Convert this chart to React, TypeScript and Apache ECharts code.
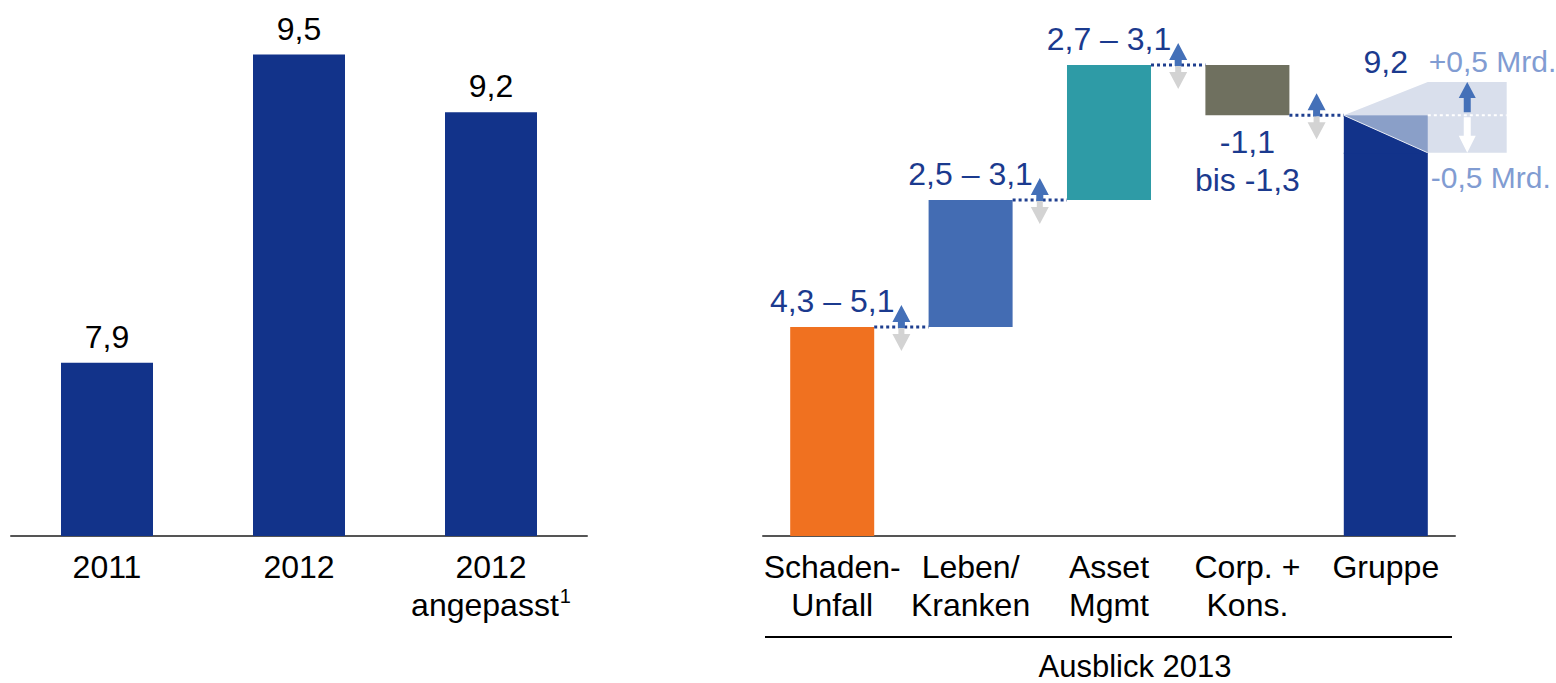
import React, { useEffect, useRef } from "react";
import * as echarts from "echarts";

// ---- Data (left chart) ----
const years = ["2011", "2012", "2012 angepasst"];
const yearLabelText = ["2011", "2012", "2012\n{a|angepasst}{s|1}"];
const profitValues = [7.9, 9.5, 9.2];
const profitLabels = ["7,9", "9,5", "9,2"];

// ---- Data (right chart: Ausblick 2013) ----
const segments = ["Schaden-\nUnfall", "Leben/\nKranken", "Asset\nMgmt", "Corp. +\nKons.", "Gruppe"];
const segmentDeltas = [4.57, 2.78, 2.95, -1.1];
const groupTotal = 9.2;
const groupHigh = 9.93;
const groupLow = 8.38;
const rangeLabels = ["4,3 – 5,1", "2,5 – 3,1", "2,7 – 3,1", "-1,1\nbis -1,3", "9,2"];
const bandLabels = ["+0,5 Mrd.", "-0,5 Mrd."];
const footerLabel = "Ausblick 2013";

const FONT = "'Liberation Sans', Arial, Helvetica, sans-serif";
const NAVY = "#12338A";
const LABEL_BLUE = "#1B3A8E";
const LIGHT_BLUE_TEXT = "#819CD2";
const segmentColors = ["#F07120", "#436CB3", "#2E9BA6", "#6F705F", NAVY];

function upArrow(x: number, base: number, tip: number, headH: number, headHalf: number, shaftHalf: number) {
  const hb = tip + headH;
  return [
    [x, tip],
    [x + headHalf, hb],
    [x + shaftHalf, hb],
    [x + shaftHalf, base],
    [x - shaftHalf, base],
    [x - shaftHalf, hb],
    [x - headHalf, hb],
  ];
}
function downArrow(x: number, base: number, tip: number, headH: number, headHalf: number, shaftHalf: number) {
  const hb = tip - headH;
  return [
    [x, tip],
    [x + headHalf, hb],
    [x + shaftHalf, hb],
    [x + shaftHalf, base],
    [x - shaftHalf, base],
    [x - shaftHalf, hb],
    [x - headHalf, hb],
  ];
}

export default function App() {
  const ref = useRef<HTMLDivElement>(null);
  useEffect(() => {
    if (!ref.current) return;
    const chart = echarts.init(ref.current, undefined, { renderer: "svg" });

    // waterfall data: [index, start, end, high, low]
    const wfData: number[][] = [];
    let cum = 0;
    segmentDeltas.forEach((d, i) => {
      wfData.push([i, cum, cum + d, cum + d, cum + d]);
      cum += d;
    });
    wfData.push([segmentDeltas.length, 0, groupTotal, groupHigh, groupLow]);

    const renderItem = (params: any, api: any) => {
      const i = api.value(0);
      const start = api.value(1);
      const end = api.value(2);
      const bw = api.size([1, 0])[0];
      const barW = bw * 0.607;
      const [cx, y0] = api.coord([i, start]);
      const y1 = api.coord([i, end])[1];
      const left = cx - barW / 2;
      const right = cx + barW / 2;
      const children: any[] = [];
      const last = i === segments.length - 1;

      if (!last) {
        const top = Math.min(y0, y1);
        const bottom = Math.max(y0, y1);
        children.push({
          type: "rect",
          shape: { x: left, y: top, width: barW, height: bottom - top },
          style: { fill: segmentColors[i] },
        });
        const nextLeft = api.coord([i + 1, 0])[0] - barW / 2;
        const midX = (right + nextLeft) / 2;
        children.push({
          type: "line",
          shape: { x1: right, y1: y1, x2: nextLeft, y2: y1 },
          style: { stroke: "#1F3F8F", lineWidth: 3, lineDash: [3, 3] },
        });
        children.push({
          type: "polygon",
          shape: { points: downArrow(midX, y1 + 1, y1 + 24, 17, 9, 3) },
          style: { fill: "#D3D3D3" },
        });
        children.push({
          type: "polygon",
          shape: { points: upArrow(midX, y1 + 1, y1 - 22, 17, 9, 3.5) },
          style: { fill: "#4470B8" },
        });
        if (end >= start) {
          children.push({
            type: "text",
            style: {
              text: rangeLabels[i], x: cx, y: top - 10, align: "center", verticalAlign: "bottom",
              fill: LABEL_BLUE, fontSize: 32, fontFamily: FONT,
            },
          });
        } else {
          children.push({
            type: "text",
            style: {
              text: rangeLabels[i], x: cx, y: bottom + 8, align: "center", verticalAlign: "top",
              fill: LABEL_BLUE, fontSize: 32, fontFamily: FONT, lineHeight: 38,
            },
          });
        }
      } else {
        const yHi = api.coord([i, api.value(3)])[1];
        const yLo = api.coord([i, api.value(4)])[1];
        const extRight = right + bw * 0.57;
        children.push({
          type: "polygon",
          shape: { points: [[left, y1], [right, yHi], [extRight, yHi], [extRight, yLo], [right, yLo], [right, y1]] },
          style: { fill: "#D9DFEC" },
        });
        children.push({
          type: "polygon",
          shape: { points: [[left, y1], [right, y1], [right, yLo]] },
          style: { fill: "#8A9FC8" },
        });
        children.push({
          type: "rect",
          shape: { x: left, y: yLo, width: barW, height: y0 - yLo },
          style: { fill: NAVY },
        });
        children.push({
          type: "polygon",
          shape: { points: [[left, y1], [right, yLo], [right, yLo + 1], [left, yLo + 1]] },
          style: { fill: NAVY },
        });
        children.push({
          type: "line",
          shape: { x1: left, y1: y1, x2: right, y2: yLo },
          style: { stroke: "#E8ECF5", lineWidth: 1 },
        });
        children.push({
          type: "line",
          shape: { x1: right, y1: y1, x2: extRight, y2: y1 },
          style: { stroke: "#FFFFFF", lineWidth: 2, lineDash: [3, 3] },
        });
        const ax = (right + extRight) / 2;
        children.push({
          type: "polygon",
          shape: { points: upArrow(ax, y1 - 3, yHi, 16, 8.5, 3.5) },
          style: { fill: "#4470B8" },
        });
        children.push({
          type: "polygon",
          shape: { points: downArrow(ax, y1 + 2, yLo, 17, 8.5, 3.5) },
          style: { fill: "#FFFFFF" },
        });
        children.push({
          type: "text",
          style: {
            text: rangeLabels[i], x: cx, y: yHi - 4, align: "center", verticalAlign: "bottom",
            fill: LABEL_BLUE, fontSize: 32, fontFamily: FONT,
          },
        });
        children.push({
          type: "text",
          style: {
            text: bandLabels[0], x: right + 1, y: yHi - 20, align: "left", verticalAlign: "middle",
            fill: LIGHT_BLUE_TEXT, fontSize: 30, fontFamily: FONT,
          },
        });
        children.push({
          type: "text",
          style: {
            text: bandLabels[1], x: right + 3, y: yLo + 25, align: "left", verticalAlign: "middle",
            fill: LIGHT_BLUE_TEXT, fontSize: 30, fontFamily: FONT,
          },
        });
      }
      return { type: "group", children };
    };

    const catLabel = {
      fontSize: 32,
      fontFamily: FONT,
      color: "#000",
      lineHeight: 38,
      margin: 12,
      interval: 0,
    };

    chart.setOption({
      animation: false,
      grid: [
        { left: 11, right: 969, top: 16, bottom: 147 },
        { left: 763, right: 101, top: 33, bottom: 147 },
      ],
      xAxis: [
        {
          gridIndex: 0,
          type: "category",
          data: years,
          axisLine: { lineStyle: { color: "#555", width: 2 } },
          axisTick: { show: false },
          axisLabel: {
            ...catLabel,
            formatter: (_v: string, idx: number) => yearLabelText[idx],
            rich: {
              a: { fontSize: 32, fontFamily: FONT, color: "#000", lineHeight: 38 },
              s: { fontSize: 20, fontFamily: FONT, color: "#000", lineHeight: 38, verticalAlign: "top", padding: [0, 0, 0, 1] },
            },
          },
        },
        {
          gridIndex: 1,
          type: "category",
          data: segments,
          axisLine: { lineStyle: { color: "#555", width: 2 } },
          axisTick: { show: false },
          axisLabel: catLabel,
        },
      ],
      yAxis: [
        { gridIndex: 0, type: "value", min: 7, max: 9.7, show: false },
        { gridIndex: 1, type: "value", min: 0, max: 11, show: false },
      ],
      series: [
        {
          type: "bar",
          xAxisIndex: 0,
          yAxisIndex: 0,
          data: profitValues,
          barWidth: 92,
          itemStyle: { color: NAVY },
          label: {
            show: true,
            position: "top",
            distance: 10,
            fontSize: 32,
            fontFamily: FONT,
            color: "#000",
            formatter: (p: any) => profitLabels[p.dataIndex],
          },
        },
        {
          type: "custom",
          xAxisIndex: 1,
          yAxisIndex: 1,
          dimensions: ["idx", "start", "end", "high", "low"],
          encode: { x: 0, y: [1, 2] },
          data: wfData,
          renderItem,
          clip: false,
        },
      ],
      graphic: [
        {
          type: "line",
          shape: { x1: 765, y1: 637, x2: 1452, y2: 637 },
          style: { stroke: "#000", lineWidth: 2 },
        },
        {
          type: "text",
          x: 1135,
          y: 666,
          style: {
            text: footerLabel,
            align: "center",
            verticalAlign: "middle",
            fontSize: 31,
            fontFamily: FONT,
            fill: "#000",
          },
        },
      ],
    });
    return () => chart.dispose();
  }, []);

  return (
    <div
      ref={ref}
      style={{ position: "fixed", left: 0, top: 0, width: 1556, height: 683, background: "#fff" }}
    />
  );
}
